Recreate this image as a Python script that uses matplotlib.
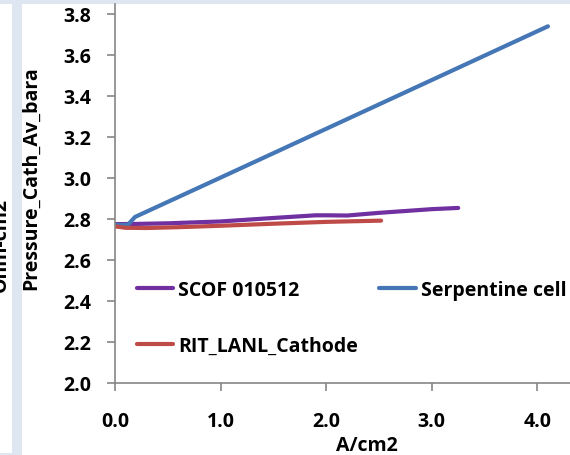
import matplotlib
matplotlib.use("Agg")
import matplotlib.pyplot as plt
from matplotlib.patches import Rectangle

plt.rcParams['font.family'] = ['Open Sans', 'DejaVu Sans']
plt.rcParams['font.weight'] = 'bold'
plt.rcParams['font.size'] = 14

# current density (A/cm2) and cathode pressure (bara) per test
scof_x = [0.0, 0.2, 0.5, 1.0, 1.5, 1.9, 2.0, 2.2, 2.5, 3.0, 3.25]
scof_y = [2.775, 2.776, 2.779, 2.788, 2.805, 2.818, 2.818, 2.817, 2.830, 2.848, 2.854]

serp_x = [0.0, 0.12, 0.19, 1.0, 2.0, 3.0, 4.1]
serp_y = [2.771, 2.771, 2.810, 3.002, 3.240, 3.478, 3.740]

rit_x = [0.0, 0.1, 0.3, 0.6, 1.0, 1.5, 2.0, 2.52]
rit_y = [2.764, 2.757, 2.756, 2.760, 2.767, 2.777, 2.786, 2.792]

W, H = 570, 456
bg = '#dee6f1'
grey = '#868686'

fig = plt.figure(figsize=(W / 100, H / 100), dpi=100, facecolor=bg)

# white chart panels on the blue sheet
fig.patches.append(Rectangle((0, 2 / H), 12 / W, (H - 7) / H, transform=fig.transFigure,
                             facecolor='white', edgecolor='none', zorder=-2))
fig.patches.append(Rectangle((22 / W, 0), (W - 22) / W, (H - 5) / H, transform=fig.transFigure,
                             facecolor='white', edgecolor='none', zorder=-2))
fig.text(11 / W, 1 - 245 / H, 'Ohm-cm2', rotation=90, ha='right', va='center',
         fontsize=14, fontweight='bold')

ax = fig.add_axes([115 / W, 1 - 384 / H, (W - 115) / W, (384 - 5) / H])
ax.set_facecolor('none')

l1, = ax.plot(scof_x, scof_y, color='#7030a0', lw=3, solid_capstyle='round', label='SCOF 010512')
l2, = ax.plot(serp_x, serp_y, color='#4577b6', lw=3, solid_capstyle='round', label='Serpentine cell')
l3, = ax.plot(rit_x, rit_y, color='#be4b48', lw=3, solid_capstyle='round', label='RIT_LANL_Cathode')

ax.set_xlim(0, (W - 115) / 105.6)
ax.set_ylim(2.0, 3.8 + 10 / 205)
ax.set_xticks([0, 1, 2, 3, 4])
ax.set_xticklabels(['0.0', '1.0', '2.0', '3.0', '4.0'])
ax.set_yticks([2.0, 2.2, 2.4, 2.6, 2.8, 3.0, 3.2, 3.4, 3.6, 3.8])
ax.set_yticklabels(['2.0', '2.2', '2.4', '2.6', '2.8', '3.0', '3.2', '3.4', '3.6', '3.8'])

for s in ['top', 'right']:
    ax.spines[s].set_visible(False)
for s in ['left', 'bottom']:
    ax.spines[s].set_color(grey)
    ax.spines[s].set_linewidth(1.2)
ax.tick_params(axis='both', direction='out', length=6, width=1.2, color=grey,
               labelsize=14, labelcolor='black')
ax.tick_params(axis='y', pad=11)
ax.tick_params(axis='x', pad=14)

fig.text(31 / W, 1 - 178 / H, 'Pressure_Cath_Av_bara', rotation=90, ha='center', va='center',
         fontsize=14, fontweight='bold')
fig.text(367 / W, 1 - 446 / H, 'A/cm2', ha='center', va='center', fontsize=14, fontweight='bold')

leg = ax.legend([l1, l3, l2], [l1.get_label(), l3.get_label(), l2.get_label()],
                ncol=2, frameon=False, loc='upper left',
                bbox_to_anchor=(22 / (W - 115), 1 - (281 - 5) / (384 - 5)),
                handlelength=1.86, handletextpad=0.26, columnspacing=1.1,
                labelspacing=1.85, borderpad=0, borderaxespad=0,
                prop={'weight': 'bold', 'size': 14})

fig.savefig('out.png', dpi=100, facecolor=bg)
